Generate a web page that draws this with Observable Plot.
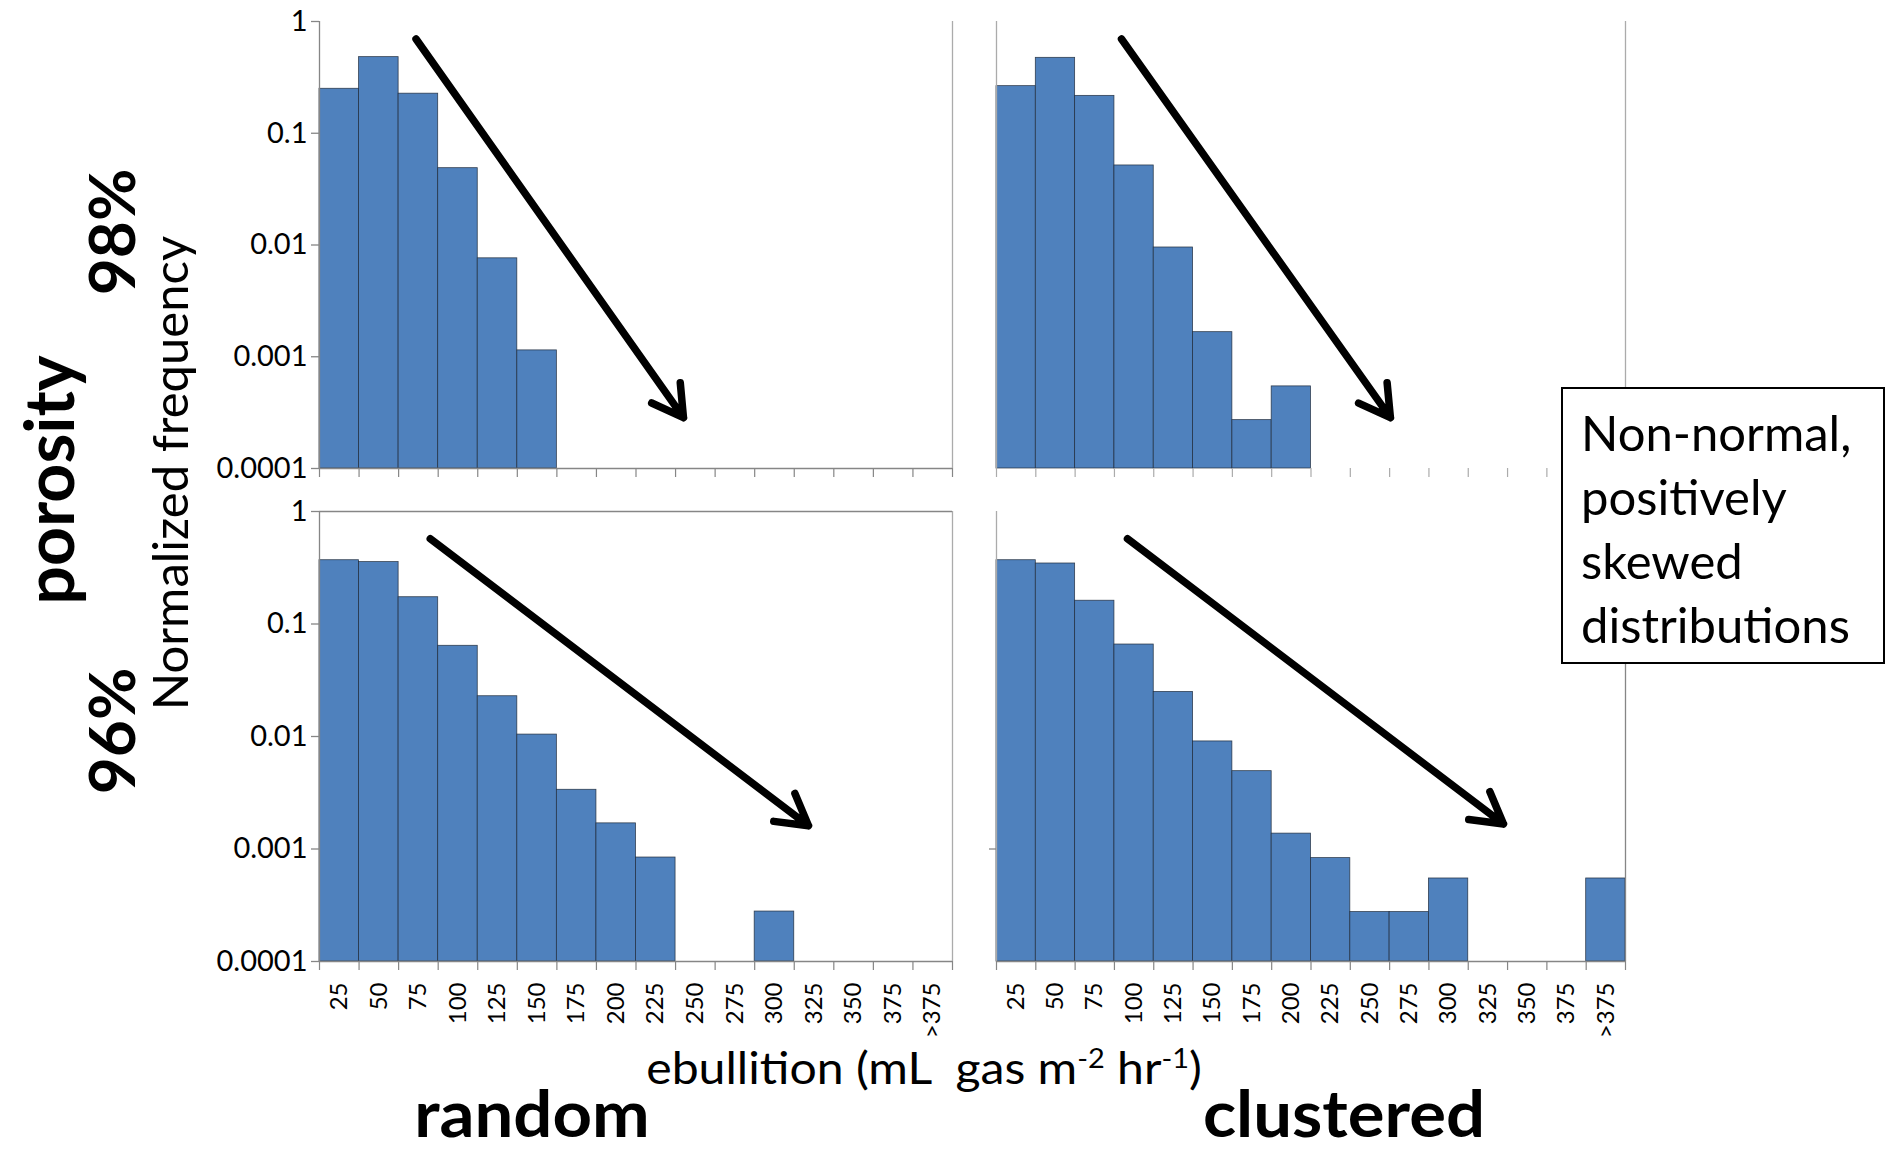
<!DOCTYPE html>
<html><head><meta charset="utf-8">
<script src="https://cdn.jsdelivr.net/npm/d3@7"></script>
<script src="https://cdn.jsdelivr.net/npm/@observablehq/plot@0.6"></script>
<style>
body{margin:0;background:#fff;}
#wrap{position:relative;width:1890px;height:1152px;overflow:hidden;font-family:Lato,"Open Sans",sans-serif;color:#000;background:#fff;}
.p{position:absolute;}
.lbl{position:absolute;white-space:nowrap;transform:translate(-50%,-50%);line-height:1;}
.rot{transform:translate(-50%,-50%) rotate(-90deg);}
.bold{font-weight:700;}
#box{position:absolute;left:1561px;top:387px;width:320px;height:273px;border:2px solid #000;background:#fff;box-sizing:content-box;}
#box div{position:absolute;left:18px;font-size:49px;line-height:64px;white-space:nowrap;}
</style></head><body><div id="wrap"></div>
<script>
// ---- data ----
const categories = ["25","50","75","100","125","150","175","200","225","250","275","300","325","350","375",">375"];
const binStart = [0,25,50,75,100,125,150,175,200,225,250,275,300,325,350,375];
const binEnd   = [25,50,75,100,125,150,175,200,225,250,275,300,325,350,375,400];
const binEdges = [0,25,50,75,100,125,150,175,200,225,250,275,300,325,350,375,400];
const random98    = [0.25, 0.48, 0.226, 0.0487, 0.0076, 0.00114, 0, 0, 0, 0, 0, 0, 0, 0, 0, 0];
const clustered98 = [0.264, 0.473, 0.216, 0.0515, 0.0095, 0.00166, 0.000271, 0.000543, 0, 0, 0, 0, 0, 0, 0, 0];
const random96    = [0.369, 0.355, 0.173, 0.064, 0.0228, 0.0104, 0.00336, 0.00169, 0.00084, 0, 0, 0.000278, 0, 0, 0, 0];
const clustered96 = [0.369, 0.345, 0.161, 0.0657, 0.0249, 0.00904, 0.00492, 0.00137, 0.00083, 0.000275, 0.000275, 0.000547, 0, 0, 0, 0.000547];
const yTicks = [1, 0.1, 0.01, 0.001, 0.0001];
const yTickLabels = ["1", "0.1", "0.01", "0.001", "0.0001"];
// trend arrows (data coordinates of each panel)
const arrowRandom98    = [{x1: 61, y1: 0.697, x2: 230, y2: 0.000285}];
const arrowClustered98 = [{x1: 79.5, y1: 0.697, x2: 250.5, y2: 0.000285}];
const arrowRandom96    = [{x1: 70, y1: 0.572, x2: 309, y2: 0.00161}];
const arrowClustered96 = [{x1: 83.3, y1: 0.572, x2: 322.4, y2: 0.00167}];

const barColor = "#4F81BD";
const axisGray = "#868686";
const lightGray = "#ababab";
const wrap = document.getElementById("wrap");

function yLabel(d) {
  const k = yTicks.findIndex(t => Math.abs(Math.log10(t) - Math.log10(d)) < 1e-6);
  return k >= 0 ? yTickLabels[k] : "";
}
function xLabel(d) {
  const k = binStart.findIndex((s, i) => Math.abs((s + binEnd[i]) / 2 - d) < 1e-6);
  return k >= 0 ? categories[k] : "";
}

function panel(cfg) {
  const data = cfg.values.map((v, i) => ({x1: binStart[i], x2: binEnd[i], v})).filter(d => d.v > 0);
  const marks = [
    Plot.rect(data, {x1: "x1", x2: "x2", y1: 1e-4, y2: "v", fill: barColor, stroke: "#1e2a3a", strokeWidth: 0.8, strokeOpacity: 0.85}),
    Plot.ruleX([0], {stroke: cfg.leftColor, strokeWidth: 1.3}),
    Plot.ruleX([400], {stroke: cfg.rightColor, strokeWidth: 1.3}),
    Plot.axisX({ticks: binEdges, tickSize: 9, tickFormat: () => "", stroke: cfg.tickColor, strokeWidth: 1.2})
  ];
  if (cfg.baseline) marks.push(Plot.ruleY([1e-4], {stroke: axisGray, strokeWidth: 1.5}));
  if (cfg.topRule) marks.push(Plot.ruleY([1], {stroke: axisGray, strokeWidth: 1.3}));
  if (cfg.yAxis) {
    marks.push(Plot.axisY({ticks: yTicks, tickSize: 8, tickFormat: () => "", stroke: axisGray, strokeWidth: 1.3}));
    marks.push(Plot.text(yTicks, {x: 0, y: d => d, text: yLabel, textAnchor: "end", dx: -12, fontSize: 29, fill: "#000"}));
  }
  if (cfg.yTickOnly) marks.push(Plot.axisY({ticks: [0.001], tickSize: 7, tickFormat: () => "", stroke: axisGray, strokeWidth: 1.3}));
  if (cfg.xLabels) marks.push(Plot.axisX({ticks: binStart.map((s, i) => (s + binEnd[i]) / 2), tickSize: 0, tickPadding: 21, tickRotate: -90, tickFormat: xLabel, fontSize: 24}));
  marks.push(Plot.arrow(cfg.arrow, {x1: "x1", y1: "y1", x2: "x2", y2: "y2", stroke: "#000", strokeWidth: 7.5, headLength: 7}));
  const svg = Plot.plot({
    width: cfg.width, height: cfg.height,
    marginLeft: cfg.mL, marginRight: cfg.mR, marginTop: cfg.mT, marginBottom: cfg.mB,
    x: {domain: [0, 400], label: null},
    y: {type: "log", domain: [1e-4, 1], label: null, axis: (cfg.yAxis || cfg.yTickOnly) ? undefined : null},
    style: {fontFamily: "Lato, 'Open Sans', sans-serif", background: "transparent", color: "#000", overflow: "visible"},
    marks
  });
  svg.classList.add("p");
  svg.style.left = cfg.left + "px";
  svg.style.top = cfg.top + "px";
  wrap.appendChild(svg);
}

panel({values: random98, left: 200, top: 0, width: 762, height: 480, mL: 119, mR: 10, mT: 21, mB: 12,
  yAxis: true, baseline: true, leftColor: axisGray, rightColor: lightGray, tickColor: axisGray, arrow: arrowRandom98});
panel({values: clustered98, left: 986, top: 0, width: 649, height: 480, mL: 10, mR: 10, mT: 21, mB: 12,
  leftColor: lightGray, rightColor: lightGray, tickColor: lightGray, arrow: arrowClustered98});
panel({values: random96, left: 200, top: 490, width: 762, height: 560, mL: 119, mR: 10, mT: 21, mB: 89,
  yAxis: true, baseline: true, topRule: true, xLabels: true, leftColor: axisGray, rightColor: lightGray, tickColor: axisGray, arrow: arrowRandom96});
panel({values: clustered96, left: 986, top: 490, width: 649, height: 560, mL: 10, mR: 10, mT: 21, mB: 89,
  yTickOnly: true, baseline: true, xLabels: true, leftColor: lightGray, rightColor: axisGray, tickColor: axisGray, arrow: arrowClustered96});

// ---- text ----
function label(html, cx, cy, size, cls, extra, lh) {
  const d = document.createElement("div");
  d.className = "lbl " + (cls || "");
  d.style.left = cx + "px"; d.style.top = cy + "px"; d.style.fontSize = size + "px";
  if (extra) d.style.transform = extra;
  if (lh) d.style.lineHeight = lh;
  d.innerHTML = html;
  wrap.appendChild(d);
}
label("porosity", 48, 480, 68, "rot bold");
label("98%", 111, 232, 64, "rot bold");
label("96%", 111, 731, 64, "rot bold");
label("Normalized frequency", 169, 473, 49, "rot");
label("ebullition (mL&nbsp; gas m<sup style='font-size:0.6em;line-height:0'>-2</sup> hr<sup style='font-size:0.6em;line-height:0'>-1</sup>)", 924, 1068, 45, "", "translate(-50%,-50%) scaleX(1.07)", "0.75");
label("random", 532, 1112, 65, "bold", "translate(-50%,-50%) scaleX(1.06)", "0.75");
label("clustered", 1344, 1112, 65, "bold", "translate(-50%,-50%) scaleX(1.06)", "0.75");

const box = document.createElement("div");
box.id = "box";
const boxLines = ["Non-normal,", "positively", "skewed", "distributions"];
boxLines.forEach((t, i) => {
  const d = document.createElement("div");
  d.style.top = (11 + i * 64) + "px";
  d.textContent = t;
  box.appendChild(d);
});
wrap.appendChild(box);
</script>
</body></html>
